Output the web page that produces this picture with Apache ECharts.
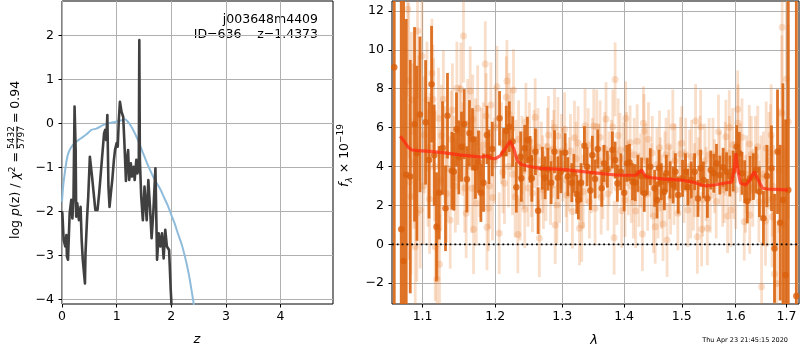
<!DOCTYPE html>
<html><head><meta charset="utf-8">
<script src="https://cdn.jsdelivr.net/npm/echarts@6/dist/echarts.min.js"></script>
<style>html,body{margin:0;padding:0;background:#fff}#c{width:800px;height:350px}</style>
</head><body><div id="c"></div>
<script>
// ---------- left panel: log p(z) ----------
const pzFit = [[0.0,-2.0],[0.007,-2.05],[0.03,-2.65],[0.06,-2.8],[0.08,-2.54],[0.09,-3.03],[0.11,-3.1],[0.14,-2.05],[0.17,-1.74],[0.19,-2.16],[0.21,-1.74],[0.23,0.38],[0.25,-0.6],[0.26,-2.12],[0.28,-1.82],[0.31,-2.2],[0.34,-1.9],[0.36,-2.65],[0.38,-3.1],[0.42,-3.64],[0.43,-2.95],[0.46,-2.12],[0.48,-1.67],[0.51,-0.76],[0.53,-0.72],[0.55,-1.21],[0.58,-1.59],[0.61,-1.97],[0.65,-1.97],[0.68,-1.59],[0.70,-1.29],[0.73,-0.83],[0.75,-0.53],[0.77,-0.23],[0.79,-0.15],[0.81,-0.38],[0.83,0.19],[0.85,-1.44],[0.87,-1.9],[0.90,-1.52],[0.92,-1.29],[0.95,-0.83],[0.97,-0.61],[1.0,-0.45],[1.02,-0.53],[1.04,0.08],[1.06,0.49],[1.09,0.26],[1.12,0.15],[1.14,-0.38],[1.17,-1.31],[1.19,-0.8],[1.21,-0.61],[1.23,-1.29],[1.26,-0.91],[1.28,-1.21],[1.31,-0.99],[1.33,-1.29],[1.36,-0.83],[1.38,-1.14],[1.405,-1.0],[1.415,1.89],[1.425,-0.83],[1.45,-1.67],[1.48,-2.2],[1.51,-1.44],[1.55,-2.2],[1.58,-1.29],[1.61,-1.9],[1.64,-2.61],[1.67,-2.05],[1.71,-1.02],[1.74,-3.1],[1.77,-2.5],[1.8,-2.8],[1.83,-2.5],[1.86,-3.07],[1.89,-2.42],[1.92,-2.8],[1.96,-2.88],[1.99,-3.79],[2.0,-4.02],[2.01,-4.6]];
const pzPrior = [[0,-1.78],[0.02,-1.45],[0.05,-1.14],[0.08,-0.88],[0.11,-0.7],[0.16,-0.56],[0.23,-0.45],[0.35,-0.34],[0.45,-0.25],[0.54,-0.15],[0.63,-0.12],[0.75,-0.04],[0.85,0.0],[0.97,0.03],[1.09,0.07],[1.15,0.09],[1.21,0.03],[1.27,-0.08],[1.33,-0.22],[1.39,-0.38],[1.45,-0.57],[1.51,-0.76],[1.6,-1.03],[1.7,-1.29],[1.8,-1.5],[1.88,-1.72],[1.94,-1.88],[2.0,-2.08],[2.06,-2.27],[2.12,-2.5],[2.19,-2.75],[2.25,-3.03],[2.3,-3.3],[2.34,-3.56],[2.4,-4.02],[2.45,-4.4]];
const zTicks = [0,1,2,3,4];
const pTicks = [-4,-3,-2,-1,0,1,2];

// ---------- right panel: spectrum ----------
const darkLam = [1.0634,1.0723,1.0753,1.0787,1.0839,1.0895,1.0926,1.0966,1.1040,1.1085,
 1.1119,1.1154,1.1185,1.1221,1.1266,1.1306,1.1333,1.1393,1.1420,1.1456,
 1.1488,1.1525,1.1562,1.1599,1.1635,1.1677,1.1719,1.1761,1.1795,1.1832,
 1.1881,1.1909,1.1957,1.2061,1.2119,1.2159,1.2203,1.2251,1.2306,1.2370,
 1.2380,1.2429,1.2470,1.2510,1.2536,1.2590,1.2631,1.2696,1.2737,1.2779,
 1.2829,1.2881,1.2933,1.2979,1.3046,1.3088,1.3150,1.3182,1.3229,1.3254,
 1.3297,1.3350,1.3393,1.3446,1.3478,1.3522,1.3565,1.3630,1.3668,1.3722,
 1.3805,1.3850,1.3888,1.3945,1.4000,1.4046,1.4090,1.4141,1.4187,1.4233,
 1.4295,1.4341,1.4393,1.4445,1.4520,1.4562,1.4597,1.4637,1.4690,1.4726,
 1.4791,1.4845,1.4886,1.4935,1.5013,1.5067,1.5109,1.5171,1.5232,1.5293,
 1.5342,1.5393,1.5467,1.5529,1.5585,1.5636,1.5698,1.5760,1.5825,1.5888,
 1.5952,1.6017,1.6068,1.6120,1.6172,1.6223,1.6276,1.6341,1.6394,1.6460,
 1.6539,1.6607,1.6699,1.6760,1.6820,1.6875,1.6930,1.6983,1.7038,1.7203];
const darkFlux = [9.1,0.77,-0.86,3.58,3.48,6.17,4.68,6.68,6.27,4.33,
 8.23,4.58,0.9,2.65,4.95,1.85,6.61,3.78,3.73,5.91,
 4.47,5.02,6.18,3.34,5.71,5.4,3.94,4.25,2.65,3.17,
 5.62,4.5,4.9,6.48,4.68,5.82,6.05,5.28,2.93,4.5,
 3.39,4.94,5.36,4.37,3.39,4.76,1.73,3.91,3.42,3.86,
 3.17,4.76,3.42,3.73,4.71,3.48,3.17,3.65,2.57,2.28,
 3.17,5.07,3.99,2.76,4.58,3.36,4.9,2.88,4.16,3.86,
 4.85,4.33,3.14,3.73,2.65,4.16,4.21,3.22,3.17,3.65,
 3.51,2.62,3.48,3.99,2.88,2.28,3.91,3.22,2.7,3.65,
 3.31,3.05,3.73,2.53,3.39,3.73,2.93,3.31,3.73,2.36,
 3.91,3.31,2.36,3.82,3.65,4.16,3.56,3.96,3.73,3.51,
 3.77,5.02,4.68,3.65,3.22,2.23,3.39,3.48,3.82,2.7,
 1.34,3.51,3.91,-0.21,4.76,1.11,2.28,-1.58,2.79,-2.66];
const darkErr = [15,14,14,8,6,5,4.5,4,3.2,3,
 3,2.6,2.8,2.4,2.4,2.2,2.2,2.0,2.0,1.9,
 1.9,1.8,1.8,1.7,1.7,1.6,1.6,1.6,1.5,1.5,
 1.5,1.4,1.4,1.4,1.3,1.3,1.3,1.3,1.3,1.3,
 1.2,1.2,1.2,1.2,1.2,1.2,1.2,1.1,1.1,1.1,
 1.1,1.1,1.1,1.1,1.0,1.0,1.0,1.0,1.0,1.0,
 1.0,1.0,1.0,1.0,1.0,1.0,1.0,0.95,0.95,0.95,
 0.95,0.95,0.95,0.95,0.95,0.95,0.95,0.95,0.95,0.95,
 0.95,0.95,0.95,0.95,0.95,0.95,0.95,0.95,0.95,0.95,
 0.95,0.95,0.95,0.95,0.95,0.95,0.95,0.95,0.95,0.95,
 0.95,0.95,1.0,1.0,1.0,1.0,1.0,1.0,1.0,1.05,
 1.05,1.1,1.1,1.1,1.1,1.15,1.15,1.2,1.2,1.3,
 1.4,1.6,2.2,2.8,3.2,4,6,8,12,16];

const lightLam = [1.0806,1.0819,1.0825,1.0848,1.0854,1.0904,1.0926,1.0934,1.0970,1.0992,
 1.1022,1.1058,1.1071,1.1092,1.1124,1.1137,1.1145,1.1168,1.1190,1.1204,
 1.1212,1.1225,1.1243,1.1278,1.1295,1.1335,1.1370,1.1383,1.1425,1.1461,
 1.1475,1.1516,1.1540,1.1552,1.1589,1.1620,1.1645,1.1669,1.1680,1.1692,
 1.1700,1.1730,1.1780,1.1830,1.1857,1.1881,1.1903,1.1917,1.1937,1.1990,
 1.2024,1.2057,1.2090,1.2133,1.2159,1.2168,1.2190,1.2230,1.2264,1.2289,
 1.2300,1.2328,1.2362,1.2410,1.2448,1.2480,1.2545,1.2570,1.2586,1.2611,
 1.2650,1.2680,1.2711,1.2750,1.2773,1.2788,1.2850,1.2881,1.2892,1.2918,
 1.2933,1.2960,1.3010,1.3037,1.3074,1.3110,1.3160,1.3192,1.3220,1.3271,
 1.3290,1.3308,1.3360,1.3380,1.3430,1.3460,1.3500,1.3522,1.3549,1.3580,
 1.3603,1.3650,1.3700,1.3750,1.3811,1.3833,1.3850,1.3880,1.3932,1.3960,
 1.3990,1.4015,1.4027,1.4070,1.4100,1.4155,1.4170,1.4195,1.4250,1.4310,
 1.4327,1.4338,1.4370,1.4413,1.4460,1.4500,1.4530,1.4560,1.4605,1.4640,
 1.4667,1.4700,1.4738,1.4768,1.4800,1.4840,1.4880,1.4929,1.4976,1.5040,
 1.5109,1.5140,1.5178,1.5210,1.5250,1.5282,1.5300,1.5330,1.5342,1.5360,
 1.5420,1.5467,1.5497,1.5520,1.5600,1.5673,1.5750,1.5800,1.5812,1.5845,
 1.5876,1.5908,1.5960,1.6037,1.6045,1.6090,1.6164,1.6210,1.6262,1.6270,
 1.6330,1.6380,1.6427,1.6490,1.6502,1.6594,1.6613,1.6650,1.6693,1.6712,
 1.6720,1.6760,1.6807,1.6907,1.6913,1.7038,
 1.0870,1.0890,1.0950,1.1010,1.1100,1.1160,1.1250,1.1320,1.1400,1.1440,
 1.1500,1.1570,1.1610,1.1720,1.1750,1.1800,1.1870,1.1960,1.2000,1.2110,
 1.2200,1.2250,1.2340,1.2390,1.2430,1.2500,1.2530,1.2630,1.2700,1.2820,
 1.2870,1.2990,1.3060,1.3130,1.3250,1.3330,1.3410,1.3480,1.3620,1.3680,
 1.3730,1.3790,1.3900,1.4040,1.4120,1.4220,1.4280,1.4400,1.4480,1.4580,
 1.4620,1.4720,1.4780,1.4860,1.4950,1.5000,1.5070,1.5160,1.5230,1.5380,
 1.5440,1.5570,1.5630,1.5700,1.5780,1.5880,1.5940,1.6000,1.6120,1.6190,
 1.6300,1.6450,1.6540,1.6580,1.6680,1.6740,1.6850,1.6950,1.7000];
const lightFlux = [12.08,8.41,3.22,2.45,7.42,-0.12,1.59,10.97,1.76,9.68,
 5.62,7.42,3.91,2.31,8.79,7.46,6.77,-0.12,-1.8,0.77,
 6.48,-1.03,3.31,7.46,4.6,3.9,1.25,5.4,4.2,8.02,
 3.4,7.97,4.9,10.71,1.59,4.0,7.88,2.88,6.43,0.77,
 4.6,2.11,3.6,5.1,9.27,0.87,1.85,3.0,7.16,4.3,
 8.1,0.57,5.2,3.14,7.56,8.4,4.0,5.9,7.93,2.45,
 4.4,0.51,2.19,3.8,6.3,2.9,2.62,4.9,6.53,3.91,
 0.31,4.3,2.79,3.2,5.02,5.62,4.4,6.0,0.99,2.02,
 5.57,3.0,4.1,5.91,2.53,3.6,1.68,5.48,4.4,0.82,
 3.1,0.99,6.1,4.0,2.19,3.5,6.08,1.85,6.05,4.3,
 5.5,3.2,6.44,3.9,6.05,0.34,8.48,2.9,4.85,1.73,
 4.4,2.28,6.48,3.4,5.24,2.19,4.6,1.71,2.8,0.53,
 6.22,5.82,4.3,5.4,3.3,1.45,0.9,4.1,4.97,2.7,
 1.04,3.9,0.22,5.02,2.4,6.05,4.3,1.59,4.64,3.0,
 1.76,4.0,4.5,2.6,6.34,0.39,3.6,4.71,6.05,0.77,
 4.3,0.82,4.59,2.5,3.5,5.79,2.8,4.4,5.53,1.45,
 6.02,1.76,3.3,6.94,6.22,4.2,1.16,3.6,5.16,1.51,
 2.9,4.5,5.02,3.4,-2.18,4.94,2.28,4.3,5.62,1.42,
 3.0,-1.53,-2.01,6.74,11.16,6.3,
 5.8,4.2,6.5,3.0,5.0,4.0,5.6,2.6,6.9,3.0,
 5.8,2.9,6.2,5.2,7.0,4.8,6.6,2.4,6.0,3.7,
 6.7,3.6,5.4,4.6,1.8,5.3,3.4,5.0,3.6,3.0,
 4.9,4.8,3.3,4.8,5.2,2.7,5.1,4.6,2.4,4.9,
 2.6,4.5,5.6,4.9,3.0,5.3,3.8,2.6,4.7,2.2,
 3.6,4.6,3.2,2.9,3.4,5.2,4.6,2.2,3.3,2.3,
 3.1,4.6,2.2,3.9,3.0,4.7,5.1,2.8,5.5,2.6,
 4.6,2.2,3.6,1.2,4.7,2.4,3.8,1.0,8.5];
const lightErr = [4.5,4,4,4,3.5,3.5,3.5,3.5,3,3,
 3,3,3,2.8,2.8,2.8,2.8,2.8,2.8,2.6,
 2.6,2.6,2.6,2.5,2.5,2.5,2.5,2.5,2.4,2.4,
 2.4,2.4,2.4,2.4,2.3,2.3,2.3,2.3,2.3,2.3,
 2.3,2.2,2.2,2.2,2.2,2.2,2.2,2.2,2.2,2.2,
 2.1,2.1,2.1,2.1,2.1,2.1,2.1,2.1,2.1,2.1,
 2.0,2.0,2.0,2.0,2.0,2.0,2.0,2.0,2.0,2.0,
 2.0,2.0,2.0,2.0,2.0,2.0,2.0,2.0,2.0,2.0,
 2.0,1.9,1.9,1.9,1.9,1.9,1.9,1.9,1.9,1.9,
 1.9,1.9,1.9,1.9,1.9,1.9,1.9,1.9,1.9,1.9,
 1.9,1.9,1.9,1.9,1.9,1.9,1.9,1.9,1.9,1.9,
 1.9,1.9,1.9,1.9,1.9,1.9,1.9,1.9,1.9,1.9,
 1.9,1.9,1.9,1.9,1.9,1.9,1.9,1.9,1.9,1.9,
 1.9,1.9,1.9,1.9,1.9,1.9,1.9,1.9,1.9,1.9,
 1.9,1.9,1.9,1.9,1.9,1.9,1.9,1.9,1.9,1.9,
 1.9,1.9,1.9,1.9,1.9,1.9,1.9,1.9,1.9,1.9,
 1.9,1.9,2.0,2.0,2.0,2.0,2.0,2.0,2.0,2.0,
 2.0,2.1,2.1,2.2,2.3,2.4,2.4,2.5,2.6,2.6,
 2.6,3,3.2,4,4.5,5,
 3.5,3.4,3.2,3,2.8,2.8,2.6,2.5,2.4,2.4,
 2.4,2.3,2.3,2.3,2.2,2.2,2.2,2.2,2.1,2.1,
 2.1,2.1,2.0,2.0,2.0,2.0,2.0,2.0,2.0,2.0,
 2.0,1.9,1.9,1.9,1.9,1.9,1.9,1.9,1.9,1.9,
 1.9,1.9,1.9,1.9,1.9,1.9,1.9,1.9,1.9,1.9,
 1.9,1.9,1.9,1.9,1.9,1.9,1.9,1.9,1.9,1.9,
 1.9,1.9,1.9,1.9,1.9,1.9,1.9,2.0,2.0,2.0,
 2.0,2.1,2.2,2.3,2.5,2.7,3.2,4,5];

const modelLam = [1.0710,1.0760,1.0810,1.0860,1.095,1.11,1.13,1.15,1.17,1.18,1.188,1.195,1.2,1.207,1.214,1.2215,1.227,1.232,1.238,1.25,1.266,1.3,1.33,1.36,1.39,1.42,1.4296,1.436,1.447,1.47,1.5,1.52,1.536,1.545,1.56,1.58,1.592,1.597,1.6,1.604,1.609,1.619,1.627,1.6357,1.642,1.652,1.665,1.68,1.703];
const modelFlux = [5.55,5.3,5.0,4.85,4.82,4.78,4.7,4.6,4.52,4.48,4.55,4.42,4.4,4.55,4.9,5.3,4.9,4.3,4.1,4.0,3.9,3.85,3.75,3.65,3.55,3.55,3.82,3.5,3.42,3.35,3.3,3.2,3.05,3.0,3.05,3.15,3.2,3.8,4.68,3.8,3.15,3.05,3.3,3.73,3.4,2.88,2.83,2.82,2.79];
const lamTicks = [1.1,1.2,1.3,1.4,1.5,1.6,1.7];
const fluxTicks = [-2,0,2,4,6,8,10,12];

const LAM_MIN = 1.0605, LAM_MAX = 1.7258;
const FONT = 'DejaVu Sans';
const minus = v => (v < 0 ? '\u2212' : '') + Math.abs(v);

function errBars(lam, flux, err, color, width, z) {
  return {
    type: 'custom', xAxisIndex: 1, yAxisIndex: 1, clip: true, silent: true, z: z,
    data: lam.map((l, i) => [l, flux[i] - err[i], flux[i] + err[i]]),
    encode: { x: 0, y: [1, 2] },
    renderItem: function (params, api) {
      const lo = api.coord([api.value(0), api.value(1)]);
      const hi = api.coord([api.value(0), api.value(2)]);
      return { type: 'line', shape: { x1: lo[0], y1: lo[1], x2: hi[0], y2: hi[1] },
               style: { stroke: color, lineWidth: width } };
    }
  };
}

const labelStyle = { color: '#000', fontFamily: FONT, fontSize: 12.5 };
const tickStyle = { show: true, inside: false, length: 3.5, lineStyle: { color: '#000', width: 1 } };
const splitStyle = { show: true, lineStyle: { color: '#b0b0b0', width: 1 } };

// text measurement for the fraction label
const mctx = document.createElement('canvas').getContext('2d');
function tw(t, size, style) { mctx.font = (style || '') + ' ' + size + 'px "' + FONT + '"'; return mctx.measureText(t).width; }
const part1W = tw('log ', 12.5) + tw('p', 12.5, 'italic') + tw('(z) / ', 12.5) + tw('\u03c7', 12.5, 'italic') + tw('2', 9) + tw(' =', 12.5);
const fracW = tw('5432', 9);
const yl0 = 239;
const fracC = yl0 - part1W - fracW / 2 - 3;

const option = {
  animation: false,
  backgroundColor: '#fff',
  grid: [
    { left: 62, top: 1, width: 271, height: 303, show: true, borderColor: '#000', borderWidth: 1, backgroundColor: 'transparent', containLabel: false },
    { left: 392, top: 1, width: 407, height: 303, show: true, borderColor: '#000', borderWidth: 1, backgroundColor: 'transparent', containLabel: false }
  ],
  xAxis: [
    { type: 'value', gridIndex: 0, min: 0, max: 4.96,
      axisLine: { show: false, onZero: false },
      axisTick: Object.assign({ customValues: zTicks }, tickStyle),
      axisLabel: Object.assign({ customValues: zTicks, margin: 6, formatter: v => minus(v) }, labelStyle),
      splitLine: splitStyle },
    { type: 'log', logBase: 10, gridIndex: 1, min: LAM_MIN, max: LAM_MAX,
      axisLine: { show: false, onZero: false },
      axisTick: Object.assign({ customValues: lamTicks }, tickStyle),
      axisLabel: Object.assign({ customValues: lamTicks, margin: 6, formatter: v => (+v).toFixed(1) }, labelStyle),
      splitLine: splitStyle }
  ],
  yAxis: [
    { type: 'value', gridIndex: 0, min: -4.107, max: 2.78,
      axisLine: { show: false, onZero: false },
      axisTick: Object.assign({ customValues: pTicks }, tickStyle),
      axisLabel: Object.assign({ customValues: pTicks, margin: 8, formatter: v => minus(v) }, labelStyle),
      splitLine: splitStyle },
    { type: 'value', gridIndex: 1, min: -3.07, max: 12.51,
      axisLine: { show: false, onZero: false },
      axisTick: Object.assign({ customValues: fluxTicks }, tickStyle),
      axisLabel: Object.assign({ customValues: fluxTicks, margin: 8, formatter: v => minus(v) }, labelStyle),
      splitLine: splitStyle }
  ],
  series: [
    { type: 'line', xAxisIndex: 0, yAxisIndex: 0, data: pzPrior, showSymbol: false, smooth: 0.3,
      lineStyle: { color: '#8fbcdb', width: 2 }, z: 2, silent: true },
    { type: 'line', xAxisIndex: 0, yAxisIndex: 0, data: pzFit, showSymbol: false,
      lineStyle: { color: '#404040', width: 2.6, join: 'round' }, z: 3, silent: true },

    errBars(lightLam, lightFlux, lightErr, 'rgba(232,125,45,0.25)', 2.8, 2),
    { type: 'scatter', xAxisIndex: 1, yAxisIndex: 1, data: lightLam.map((l, i) => [l, lightFlux[i]]),
      symbolSize: 7, itemStyle: { color: 'rgba(232,125,45,0.3)' }, z: 3, silent: true },
    errBars(darkLam, darkFlux, darkErr, 'rgba(218,100,15,0.9)', 2.8, 4),
    { type: 'scatter', xAxisIndex: 1, yAxisIndex: 1, data: darkLam.map((l, i) => [l, darkFlux[i]]),
      symbolSize: 6.5, itemStyle: { color: '#d95f0b' }, z: 5, silent: true },
    { type: 'line', xAxisIndex: 1, yAxisIndex: 1, data: modelLam.map((l, i) => [l, modelFlux[i]]),
      showSymbol: false, lineStyle: { color: '#ff2a10', width: 3.2, opacity: 0.75 }, z: 6, silent: true },
    { type: 'line', xAxisIndex: 1, yAxisIndex: 1, data: [[LAM_MIN, 0], [LAM_MAX, 0]],
      showSymbol: false, lineStyle: { color: '#000', width: 1.8, type: [1.8, 3] }, z: 7, silent: true }
  ],
  graphic: [
    { type: 'text', x: 318, y: 20, style: { text: 'j003648m4409', align: 'right', verticalAlign: 'middle', fontFamily: FONT, fontSize: 12.5, fill: '#000' } },
    { type: 'text', x: 318, y: 34.5, style: { text: 'ID=636    z=1.4373', align: 'right', verticalAlign: 'middle', fontFamily: FONT, fontSize: 12.5, fill: '#000' } },
    { type: 'text', x: 197, y: 340, style: { text: 'z', align: 'center', verticalAlign: 'middle', fontFamily: FONT, fontStyle: 'italic', fontSize: 13, fill: '#000' } },
    { type: 'text', x: 594, y: 340.5, style: { text: '\u03bb', align: 'center', verticalAlign: 'middle', fontFamily: FONT, fontStyle: 'italic', fontSize: 13, fill: '#000' } },
    { type: 'text', x: 788, y: 340, style: { text: 'Thu Apr 23 21:45:15 2020', align: 'right', verticalAlign: 'middle', fontFamily: FONT, fontSize: 6.5, fill: '#000' } },
    // left y label
    { type: 'text', x: 16, y: yl0, rotation: Math.PI / 2,
      style: { text: '{n|log }{i|p}{n|(z) / }{i|\u03c7}{s|2}{n| =}', align: 'left', verticalAlign: 'middle', fill: '#000',
        rich: { n: { fontFamily: FONT, fontSize: 12.5, lineHeight: 16 },
                i: { fontFamily: FONT, fontSize: 12.5, fontStyle: 'italic', lineHeight: 16 },
                s: { fontFamily: FONT, fontSize: 9, lineHeight: 16, verticalAlign: 'top' } } } },
    { type: 'text', x: 11.5, y: fracC, rotation: Math.PI / 2, style: { text: '5432', align: 'center', verticalAlign: 'middle', fontFamily: FONT, fontSize: 9, fill: '#000' } },
    { type: 'text', x: 22, y: fracC, rotation: Math.PI / 2, style: { text: '5797', align: 'center', verticalAlign: 'middle', fontFamily: FONT, fontSize: 9, fill: '#000' } },
    { type: 'line', shape: { x1: 16.8, y1: fracC - fracW / 2, x2: 16.8, y2: fracC + fracW / 2 }, style: { stroke: '#000', lineWidth: 0.8 } },
    { type: 'text', x: 16, y: fracC - fracW / 2 - 3, rotation: Math.PI / 2,
      style: { text: '= 0.94', align: 'left', verticalAlign: 'middle', fontFamily: FONT, fontSize: 12.5, fill: '#000' } },
    // right y label
    { type: 'text', x: 345, y: 187, rotation: Math.PI / 2,
      style: { text: '{i|f}{b|\u03bb}{n| \u00d7 10}{t|\u221219}', align: 'left', verticalAlign: 'middle', fill: '#000',
        rich: { n: { fontFamily: FONT, fontSize: 12.5, lineHeight: 18 },
                i: { fontFamily: FONT, fontSize: 12.5, fontStyle: 'italic', lineHeight: 18 },
                b: { fontFamily: FONT, fontSize: 9, fontStyle: 'italic', lineHeight: 18, verticalAlign: 'bottom' },
                t: { fontFamily: FONT, fontSize: 9, lineHeight: 18, verticalAlign: 'top' } } } }
  ]
};
const chart = echarts.init(document.getElementById('c'));
chart.setOption(option);
</script>
</body></html>
